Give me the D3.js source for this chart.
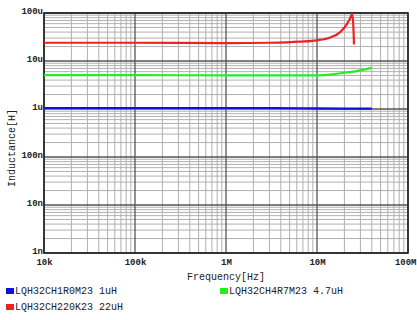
<!DOCTYPE html>
<html><head><meta charset="utf-8">
<script src="https://cdn.jsdelivr.net/npm/d3@7"></script>
<style>body{margin:0;background:#fff}svg{display:block}text{font-family:"Liberation Mono","DejaVu Sans Mono",monospace;fill:#222}</style>
</head><body><svg id="c" width="417" height="320"></svg>
<script>
const xTickVals=[1e4,1e5,1e6,1e7,1e8];
const xTickLabels=["10k","100k","1M","10M","100M"];
const yTickVals=[1e-9,1e-8,1e-7,1e-6,1e-5,1e-4];
const yTickLabels=["1n","10n","100n","1u","10u","100u"];
const seriesNames=["LQH32CH1R0M23 1uH","LQH32CH4R7M23 4.7uH","LQH32CH220K23 22uH"];
const seriesColors=["#1010e0","#22ee22","#ee2222"];
const blueF=[1e4,1e5,1e6,3e6,1e7,2e7,4e7];
const blueL=[1.05e-6,1.05e-6,1.05e-6,1.05e-6,1.03e-6,1.02e-6,1.02e-6];
const greenF=[1e4,1e5,1e6,5e6,1e7,1.5e7,2e7,3e7,4e7];
const greenL=[5.1e-6,5.1e-6,5.0e-6,5.0e-6,5.0e-6,5.3e-6,5.7e-6,6.4e-6,7.2e-6];
const redF=[1e4,1e5,1e6,3e6,6.5e6,1e7,1.4e7,1.8e7,2.12e7,2.3e7,2.43e7,2.5e7,2.55e7];
const redL=[24e-6,24e-6,23.5e-6,24e-6,25.3e-6,27e-6,31e-6,40e-6,58e-6,76e-6,96e-6,60e-6,22e-6];

const svg=d3.select("#c");
const L=44,R=408,T=13,B=253;
const x=d3.scaleLog().domain([1e4,1e8]).range([L,R]);
const y=d3.scaleLog().domain([1e-9,1e-4]).range([B,T]);
const g=svg.append("g");
const minorX=[],minorY=[];
for(let d=1e4;d<1e8;d*=10)for(let k=2;k<10;k++)minorX.push(d*k);
for(let d=1e-9;d<1e-4;d*=10)for(let k=2;k<10;k++)minorY.push(d*k);
g.selectAll(".mx").data(minorX).enter().append("line").attr("x1",d=>x(d)).attr("x2",d=>x(d)).attr("y1",T).attr("y2",B).attr("stroke","#b0b0b0").attr("stroke-width",1);
g.selectAll(".my").data(minorY).enter().append("line").attr("y1",d=>y(d)).attr("y2",d=>y(d)).attr("x1",L).attr("x2",R).attr("stroke","#b0b0b0").attr("stroke-width",1);
g.selectAll(".Mx").data(xTickVals).enter().append("line").attr("x1",d=>x(d)).attr("x2",d=>x(d)).attr("y1",T).attr("y2",B).attr("stroke","#555").attr("stroke-width",1.3);
g.selectAll(".My").data(yTickVals).enter().append("line").attr("y1",d=>y(d)).attr("y2",d=>y(d)).attr("x1",L).attr("x2",R).attr("stroke","#555").attr("stroke-width",1.3);
g.append("rect").attr("x",L).attr("y",T).attr("width",R-L).attr("height",B-T).attr("fill","none").attr("stroke","#222").attr("stroke-width",1.6);
const xa=d3.axisBottom(x).tickValues(xTickVals).tickFormat((d,i)=>xTickLabels[i]).tickSize(0).tickPadding(6);
svg.append("g").attr("transform",`translate(0,${B})`).call(xa).call(s=>{s.select(".domain").remove();s.selectAll("text").attr("font-size",9).attr("font-family","Liberation Mono").attr("fill","#222").attr("font-weight","bold");
  s.selectAll(".tick").filter(d=>d===1e8).select("text").attr("text-anchor","end").attr("x",8);});
const ya=d3.axisLeft(y).tickValues(yTickVals).tickFormat((d,i)=>yTickLabels[i]).tickSize(0).tickPadding(1);
svg.append("g").attr("transform",`translate(${L},0)`).call(ya).call(s=>{s.select(".domain").remove();s.selectAll("text").attr("font-size",9).attr("font-family","Liberation Mono").attr("fill","#222").attr("dy","0.1em").attr("font-weight","bold");});
svg.append("text").attr("x",226).attr("y",280).attr("text-anchor","middle").attr("font-size",10).text("Frequency[Hz]");
svg.append("text").attr("transform","translate(15,148) rotate(-90)").attr("text-anchor","middle").attr("font-size",10).text("Inductance[H]");
const line=d3.line().x(d=>x(d[0])).y(d=>y(d[1])).curve(d3.curveMonotoneX);
const series=[[blueF,blueL],[greenF,greenL],[redF,redL]];
series.forEach((s,i)=>{
  const pts=s[0].map((f,j)=>[f,s[1][j]]);
  svg.append("path").datum(pts).attr("d",line).attr("fill","none").attr("stroke",seriesColors[i]).attr("stroke-width",2.2).attr("stroke-linejoin","round");
});
const leg=[[6,293],[220,293],[6,309]];
seriesNames.forEach((n,i)=>{
  svg.append("rect").attr("x",leg[i][0]).attr("y",leg[i][1]-5).attr("width",8).attr("height",6).attr("fill",seriesColors[i]);
  svg.append("text").attr("x",leg[i][0]+9).attr("y",leg[i][1]+1).attr("font-size",10).text(n);
});
</script></body></html>
